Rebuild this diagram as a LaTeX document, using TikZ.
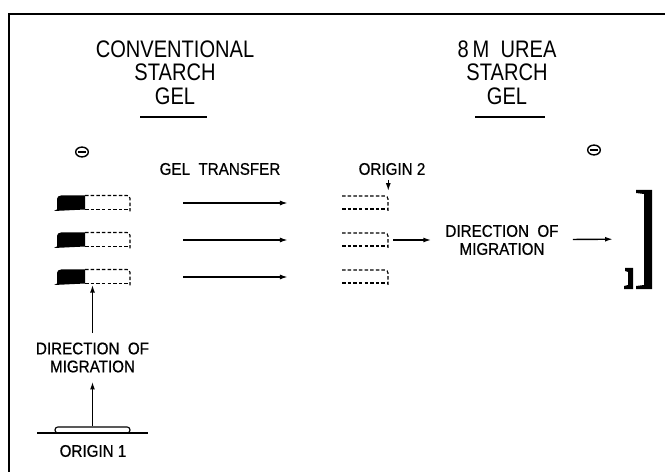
\documentclass[tikz,border=0pt]{standalone}
\usepackage{fontspec}
\setmainfont{Liberation Sans}
\newfontfamily\headfont[FakeStretch=0.84]{Liberation Sans}
\newfontfamily\lblfont[FakeStretch=0.9,FakeBold=0.6]{Liberation Sans}
\usetikzlibrary{positioning,calc,arrows.meta,shapes.geometric}

\tikzset{
    heading/.style={align=center, inner sep=0pt, font=\headfont\fontsize{17}{16.7}\selectfont},
    lbl/.style={align=center, font=\lblfont\fontsize{12}{12.8}\selectfont},
    cathode/.style={draw, ellipse, line width=1pt, minimum width=9pt, minimum height=7pt, inner sep=0pt,
        path picture={\draw[line width=1pt] ([xshift=1.8pt]path picture bounding box.west) -- ([xshift=-1.8pt]path picture bounding box.east);}},
    gelbox/.style={inner sep=0pt, minimum height=10.7pt},
    flow/.style={-{Latex[length=5.5pt,width=3.5pt]}, line width=1pt},
    dashgel/.style={dash pattern=on 2.5pt off 1.5pt, line width=0.8pt}
}

\begin{document}
\begin{tikzpicture}[x=0.025cm, y=-0.025cm]
            \useasboundingbox (0,0) rectangle (665,472);
            \draw[line width=0.8pt] (665,14) -- (9,14) -- (9,472);

            \node[heading] (convtitle) at (175,72.5) {CONVENTIONAL\\STARCH\\GEL};
            \node[heading] (ureatitle) at (507,72.5) {8\,M\ \ UREA\\STARCH\\GEL};
            \draw[line width=1pt] (140,117) -- (207,117);
            \draw[line width=1pt] (475,117) -- (545,117);

            \node[cathode] (cathl) at (82,152) {};
            \node[cathode] (cathr) at (594,150) {};

            \node[lbl] (xfer) at (220,169) {GEL\ \ TRANSFER};
            \node[lbl] (orig2) at (392,169) {ORIGIN 2};

            \foreach \i/\y in {1/203,2/240,3/277}{
                \node[gelbox, minimum width=53.3pt] (cg\i) at (92.5,\y) {};
                \node[gelbox, minimum width=32.7pt] (ug\i) at (365,\y) {};
                \fill (54,\y+8) -- (57,\y+6.5) -- (57,\y-4) to[out=90,in=180] (61,\y-7.5)
                    -- (85,\y-7.5) -- (85,\y+6.5) -- cycle;
                \draw[dashgel] (85,\y-7.5) -- (127,\y-7.5) to[out=0,in=90] (130,\y-4.5)
                    -- (130,\y+8.5);
                \draw[dashgel] (85,\y+6.5) -- (130,\y+6.5);
                \draw[dashgel] (342,\y-7) -- (385,\y-7) to[out=0,in=90] (388,\y-4)
                    -- (388,\y+8);
                \draw[dashgel] (342,\y+6) -- (388,\y+6);
                \draw[flow, shorten <=37.7pt, shorten >=38.4pt] (cg\i) -- (ug\i);
            }
            \draw[flow, shorten >=3pt] (orig2.south -| ug1.east) -- (ug1.north east);

            \node[lbl, inner xsep=10pt] (dirr) at (502,240) {DIRECTION\ \ OF\\MIGRATION};
            \node[inner sep=0pt, minimum width=19.2pt, minimum height=69pt] (band) at (638.5,239) {};
            \draw[flow, shorten <=3.5pt] (ug2) -- (dirr);
            \draw[flow, shorten >=8.5pt] (dirr) -- (band);
            \fill (636,190) -- (652,190) -- (652,289) -- (636,289) -- (636,286) -- (644,285)
                -- (644,194) -- (636,193) -- cycle;
            \fill (625,268) -- (633,268) -- (633,289) -- (624,289) -- (624,286) -- (628,285)
                -- (628,272) -- (625,271) -- cycle;

            \node[lbl, inner ysep=6.4pt] (dirl) at (92.5,357.5) {DIRECTION\ \ OF\\MIGRATION};
            \node[draw, line width=0.8pt, rounded corners=2pt, minimum width=53.3pt, minimum height=4.3pt,
                inner sep=0pt] (slot) at (92.5,430) {};
            \draw[line width=0.8pt] (37,433) -- (148,433);
            \node[lbl] (orig1) at (93,451) {ORIGIN 1};
            \draw[flow] (dirl) -- (cg3);
            \draw[flow] (slot) -- (dirl);
        \end{tikzpicture}
\end{document}
